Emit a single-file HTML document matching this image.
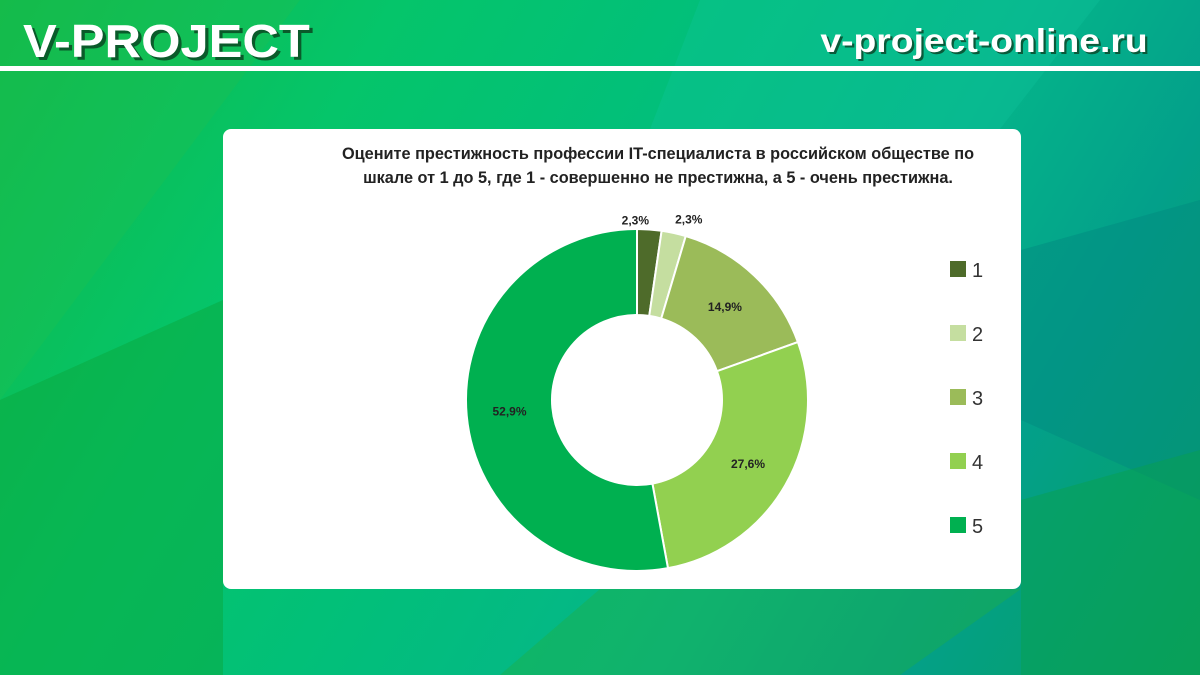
<!DOCTYPE html>
<html><head><meta charset="utf-8"><style>
html,body{margin:0;padding:0}
body{width:1200px;height:675px;position:relative;overflow:hidden;font-family:"Liberation Sans",sans-serif;
background:linear-gradient(120deg,#10b848 0%,#05c56a 25%,#02bf7a 45%,#05b58a 65%,#03a08a 80%,#08a060 100%);}
.bgsvg{position:absolute;left:0;top:0}
#logo{position:absolute;left:23px;top:14px;font-size:46px;font-weight:bold;color:#fff;text-shadow:3px 3px 0 #0a5a2a;transform:scaleX(1.1);transform-origin:left}
#site{position:absolute;right:52px;top:22px;font-size:33px;font-weight:bold;color:#fff;text-shadow:2px 2px 0 #0a5a3a;transform:scaleX(1.13);transform-origin:right}
#rule{position:absolute;left:0;top:66px;width:1200px;height:5px;background:#fff}
#card{position:absolute;left:223px;top:129px;width:798px;height:460px;background:#fff;border-radius:8px}
#title{position:absolute;left:36px;width:798px;top:13px;text-align:center;font-size:16.3px;font-weight:bold;color:#222;line-height:24px}
</style></head><body>
<svg class="bgsvg" width="1200" height="675">
<polygon points="0,0 300,0 0,400" fill="#1fc050" opacity="0.35"/>
<polygon points="0,400 223,300 223,675 0,675" fill="#0aa83e" opacity="0.5"/>
<polygon points="1021,250 1200,200 1200,500 1021,420" fill="#028a80" opacity="0.5"/>
<polygon points="1021,500 1200,450 1200,675 1021,675" fill="#07a050" opacity="0.5"/>
<polygon points="600,589 1021,589 900,675 500,675" fill="#20b040" opacity="0.4"/>
<polygon points="700,0 1100,0 1000,129 650,129" fill="#10c8a0" opacity="0.3"/>
</svg>
<div id="logo">V-PROJECT</div>
<div id="site">v-project-online.ru</div>
<div id="rule"></div>
<div id="card">
<div id="title">Оцените престижность профессии IT-специалиста в российском обществе по<br>шкале от 1 до 5, где 1 - совершенно не престижна, а 5 - очень престижна.</div>
<svg id="chart" width="798" height="460" style="position:absolute;left:0;top:0"></svg>
</div>
<script>
const categories=["1","2","3","4","5"];
const values=[2.3,2.3,14.9,27.6,52.9];
const labels=["2,3%","2,3%","14,9%","27,6%","52,9%"];
const colors=["#4e6b2a","#c5dea0","#9bbb59","#92d050","#00b050"];
const svg=document.getElementById('chart');const NS="http://www.w3.org/2000/svg";
const cx=414,cy=271,R=171,r=85;
const total=values.reduce((a,b)=>a+b,0);
function pt(a,rad){return [cx+rad*Math.sin(a),cy-rad*Math.cos(a)];}
let acc=0;
values.forEach((v,i)=>{
 const a0=acc/total*2*Math.PI;acc+=v;const a1=acc/total*2*Math.PI;
 const [x0,y0]=pt(a0,R),[x1,y1]=pt(a1,R),[x2,y2]=pt(a1,r),[x3,y3]=pt(a0,r);
 const lg=(a1-a0)>Math.PI?1:0;
 const p=document.createElementNS(NS,'path');
 p.setAttribute('d',`M${x0},${y0}A${R},${R} 0 ${lg} 1 ${x1},${y1}L${x2},${y2}A${r},${r} 0 ${lg} 0 ${x3},${y3}Z`);
 p.setAttribute('fill',colors[i]);p.setAttribute('stroke','#fff');p.setAttribute('stroke-width','2');
 
 
 svg.appendChild(p);
 const am=(a0+a1)/2;let lx,ly;
 if(v>10){[lx,ly]=pt(am,(R+r)/2);}else{[lx,ly]=pt(am,R+14);lx+=(i==0?-15:12);ly+=(i==0?5:0);}
 const t=document.createElementNS(NS,'text');
 t.setAttribute('x',lx);t.setAttribute('y',ly+4);t.setAttribute('text-anchor','middle');
 t.setAttribute('font-size','12');t.setAttribute('font-weight','bold');t.setAttribute('fill','#222');
 t.setAttribute('font-family','Liberation Sans, sans-serif');t.textContent=labels[i];
 
 
 svg.appendChild(t);
 const ry=140+i*64;
 const g=document.createElementNS(NS,'g');
 
 
 const rc=document.createElementNS(NS,'rect');
 rc.setAttribute('x',727);rc.setAttribute('y',ry-8);rc.setAttribute('width',16);rc.setAttribute('height',16);rc.setAttribute('fill',colors[i]);
 g.appendChild(rc);
 const lt=document.createElementNS(NS,'text');
 lt.setAttribute('x',749);lt.setAttribute('y',ry+8);lt.setAttribute('font-size','20');lt.setAttribute('fill','#333');
 lt.setAttribute('font-family','Liberation Sans, sans-serif');lt.textContent=categories[i];
 g.appendChild(lt);svg.appendChild(g);
});
</script>
</body></html>
